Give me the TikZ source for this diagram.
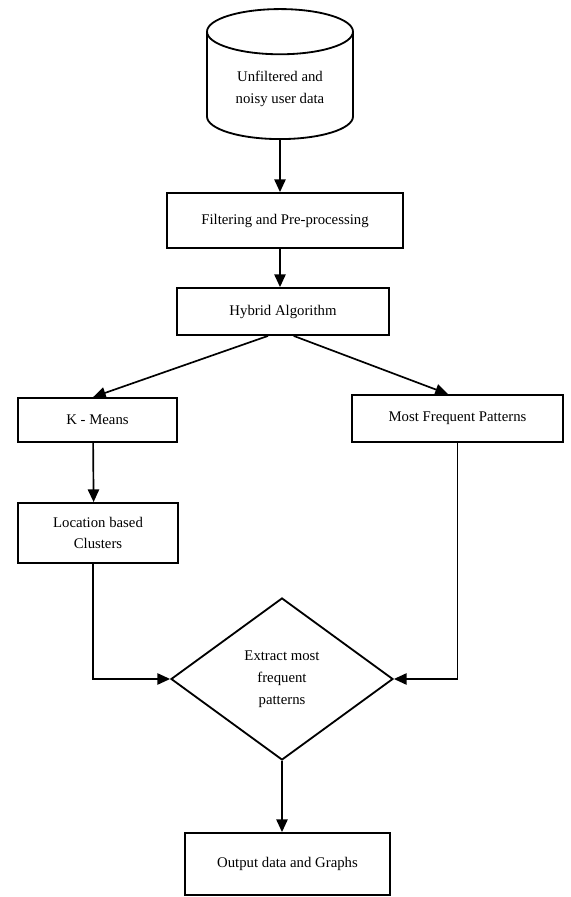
\documentclass[tikz,border=0pt]{standalone}
\usepackage{fontspec}
\setmainfont{Liberation Serif}
\usetikzlibrary{calc, shapes.geometric, arrows.meta}
\tikzset{
    box/.style={draw=black, line width=1.3pt, fill=white, align=center, inner sep=2pt,
        font=\fontsize{10.5}{15.5}\selectfont},
    flow/.style={line width=1.2pt, -{Triangle[length=9pt, width=8pt]}},
}

\begin{document}
\begin{tikzpicture}
    \useasboundingbox (0,0) rectangle (14.25,22.425);
    \newcommand\posL{2.45}
    \newcommand\posM{7.05}
    \newcommand\posR{11.4375}

    \node[box, cylinder, shape border rotate=90, aspect=0.48, anchor=south, minimum width=3.65cm, minimum height=3.25cm] (data) at (7.0, 18.925){Unfiltered and\\noisy user data};
    \node[box, minimum width=5.9cm, minimum height=1.375cm] (filter) at (7.125, 16.9125){Filtering and Pre-processing};
    \node[box, minimum width=5.3cm, minimum height=1.175cm] (hybrid) at (7.075, 14.6375){Hybrid Algorithm};

    \node[box, minimum width=3.975cm, minimum height=1.1cm] (kmeans) at (2.4375, 11.925){K - Means};
    \node[box, minimum width=5.275cm, minimum height=1.175cm] (freq) at (\posR, 11.9625){Most Frequent Patterns};
    \node[box, minimum width=4cm, minimum height=1.5cm] (clusters) at (\posL, 9.1){Location based\\Clusters};

    \node[box, diamond, aspect=1.37, inner sep=0pt, minimum width=5.55cm, minimum height=4.05cm] (extract) at (\posM, 5.45){Extract most\\frequent\\patterns};
    \node[box, minimum width=5.125cm, minimum height=1.55cm] (output) at (7.1875, 0.825){Output data and Graphs};

    \draw[flow] (data.south) -- (data.south |- filter.north);
    \draw[flow] (data.south |- filter.south) -- (data.south |- hybrid.north);
    \draw[flow] ($(hybrid.south west)!0.43!(hybrid.south east)$) -- ($(kmeans.north)+(-0.11,0)$);
    \draw[flow] ($(hybrid.south west)!0.55!(hybrid.south east)$) -- ($(freq.north)+(-0.24,0)$);
    \draw[flow] ($(kmeans.south)+(-0.11,0)$) -- ($(clusters.north)+(-0.11,0)$);
    \draw[flow] ($(clusters.south)+(-0.12,0)$) |- (extract.west);
    \draw[flow] (freq.south) |- (extract.east);
    \draw[flow] (extract.south) -- (extract.south |- output.north);
\end{tikzpicture}
\end{document}
